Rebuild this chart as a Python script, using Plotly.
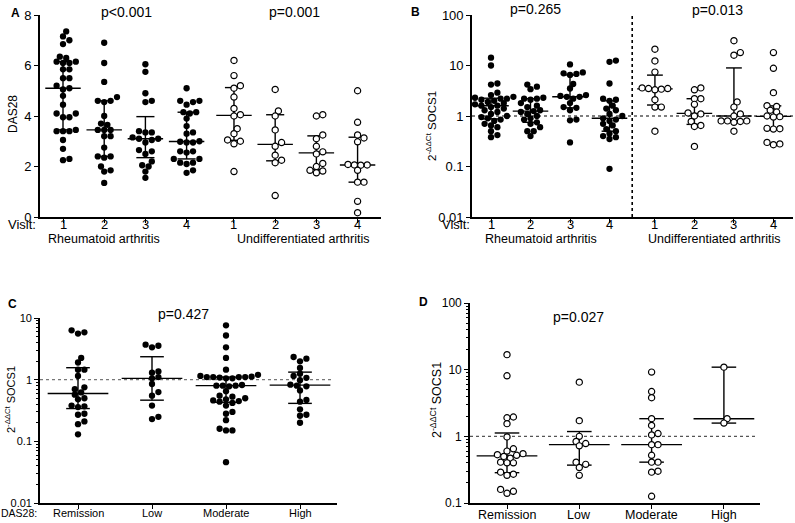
"""SOCS1 expression and DAS28 over visits, four-panel dot plots"""

import numpy as np
import plotly.graph_objects as go

W, H = 795, 523
FONT = "Liberation Sans, Arial, sans-serif"

# ---- data ----
visits = ["1", "2", "3", "4"]
das28_ra = [
    [7.35, 7.15, 7.0, 6.85, 6.35, 6.3, 6.15, 6.15, 6.1, 6.1, 5.85, 5.85, 5.5, 5.5, 5.2,
     5.1, 5.05, 4.8, 4.45, 4.1, 4.1, 3.95, 3.95, 3.45, 3.4, 3.4, 3.4, 3.05, 2.7, 2.3, 2.25],
    [6.9, 6.1, 5.35, 4.75, 4.6, 4.6, 4.55, 4.0, 3.7, 3.65, 3.45, 3.45, 3.45, 3.2, 3.2,
     2.75, 2.4, 2.4, 2.35, 2.0, 1.85, 1.8, 1.35],
    [6.05, 5.75, 4.9, 4.6, 4.55, 3.4, 3.35, 3.35, 3.15, 3.1, 3.1, 3.05, 2.95, 2.65, 2.6,
     2.5, 2.2, 2.05, 2.0, 1.8, 1.55],
    [5.1, 4.6, 4.6, 4.55, 4.45, 4.15, 4.15, 4.1, 3.9, 3.6, 3.35, 3.3, 3.0, 2.98, 2.95,
     2.95, 2.6, 2.6, 2.55, 2.3, 2.3, 2.15, 2.15, 2.1, 1.85, 1.75],
]
das28_ua = [
    [6.2, 5.6, 5.2, 5.1, 4.75, 4.3, 4.05, 4.0, 3.5, 3.3, 3.05, 3.0, 2.9, 1.8],
    [5.05, 4.2, 4.0, 3.45, 2.95, 2.8, 2.45, 2.25, 2.15, 0.85],
    [4.05, 4.0, 3.25, 3.1, 2.8, 2.58, 2.5, 2.12, 2.0, 1.85, 1.82, 1.75],
    [5.0, 3.75, 3.25, 3.13, 2.98, 2.08, 2.06, 2.06, 2.05, 1.85, 1.38, 1.38, 0.62, 0.17],
]
p_das28 = ["p&lt;0.001", "p=0.001"]

socs1_ra = [
    [14.3, 10.0, 4.4, 4.2, 2.9, 2.6, 2.4, 2.3, 2.2, 2.2, 2.1, 2.0, 1.9, 1.8, 1.7, 1.6, 1.6,
     1.5, 1.4, 1.3, 1.2, 1.1, 1.0, 0.95, 0.9, 0.85, 0.8, 0.7, 0.65, 0.6, 0.5, 0.42, 0.38],
    [4.2, 3.8, 3.4, 2.3, 2.2, 2.2, 2.1, 1.8, 1.6, 1.5, 1.3, 1.25, 1.2, 1.1, 1.0, 0.9, 0.85,
     0.75, 0.7, 0.6, 0.5, 0.5, 0.4],
    [10.5, 7.3, 7.0, 6.8, 6.5, 4.3, 3.5, 2.6, 2.5, 2.4, 2.4, 2.2, 1.8, 1.5, 1.45, 1.3,
     0.85, 0.82, 0.3],
    [12.5, 11.8, 4.4, 2.2, 2.1, 2.0, 1.6, 1.4, 1.3, 1.1, 1.0, 0.9, 0.85, 0.8, 0.7, 0.65,
     0.55, 0.5, 0.45, 0.4, 0.38, 0.35, 0.09],
]
socs1_ua = [
    [21.0, 12.3, 7.4, 3.6, 3.5, 3.5, 3.4, 3.3, 2.1, 1.5, 1.5, 0.5],
    [3.6, 3.3, 2.2, 2.2, 1.7, 1.15, 1.1, 1.0, 0.78, 0.65, 0.62, 0.25],
    [31.0, 18.0, 16.0, 1.9, 1.5, 1.1, 1.0, 0.8, 0.8, 0.78, 0.75, 0.5, 0.8],
    [18.0, 8.8, 2.9, 1.6, 1.55, 1.3, 1.2, 1.0, 0.97, 0.95, 0.57, 0.56, 0.55, 0.28, 0.3, 0.27],
]
p_socs1 = ["p=0.265", "p=0.013"]

das_levels = ["Remission", "Low", "Moderate", "High"]
socs1_ra_das = [
    [6.3, 5.85, 5.6, 2.25, 1.9, 1.45, 1.45, 1.15, 0.75, 0.7, 0.62, 0.57, 0.5, 0.48, 0.38,
     0.37, 0.36, 0.28, 0.27, 0.21, 0.19, 0.13],
    [3.7, 3.55, 3.35, 1.36, 1.3, 1.1, 1.05, 0.85, 0.63, 0.55, 0.38, 0.25, 0.23],
    [7.6, 5.2, 3.35, 2.25, 1.45, 1.2, 1.15, 1.12, 1.1, 1.1, 1.1, 1.1, 1.08, 1.05, 1.05,
     0.82, 0.8, 0.8, 0.8, 0.78, 0.65, 0.55, 0.53, 0.5, 0.48, 0.46, 0.45, 0.44, 0.42, 0.38,
     0.3, 0.28, 0.22, 0.16, 0.15, 0.15, 0.046],
    [2.33, 2.19, 1.98, 1.55, 1.25, 1.15, 1.07, 0.98, 0.83, 0.8, 0.78, 0.67, 0.47, 0.44,
     0.33, 0.27, 0.26, 0.2],
]
p_ra_das = "p=0.427"
socs1_ua_das = [
    [16.8, 8.1, 1.95, 1.9, 1.55, 0.98, 0.65, 0.6, 0.55, 0.53, 0.52, 0.5, 0.47, 0.41, 0.4,
     0.4, 0.29, 0.27, 0.26, 0.16, 0.15, 0.14],
    [6.5, 1.72, 1.0, 0.84, 0.78, 0.72, 0.41, 0.38, 0.34, 0.26],
    [9.2, 4.7, 3.8, 1.84, 1.46, 1.1, 1.05, 0.75, 0.75, 0.52, 0.41, 0.41, 0.3, 0.29, 0.126],
    [10.9, 1.84, 1.58],
]
p_ua_das = "p=0.027"

SOCS_TITLE = "2<sup>-ΔΔCt</sup> SOCS1"

# ---- panel geometry in pixels: left, right, top, bottom ----
panels = {
    "A": dict(box=(40, 381, 15, 217), x0=63, step=41.2, yr=(0, 8), log=False),
    "B": dict(box=(472, 793, 15, 217), x0=491, step=39.5, yr=(-2, 2), log=True),
    "C": dict(box=(40, 337, 318, 503), x0=78, step=74.0, yr=(-2, 1), log=True),
    "D": dict(box=(470, 760, 303, 503), x0=507, step=72.3, yr=(-1, 2), log=True),
}
for p in panels.values():
    l, r, t, b = p["box"]
    p["xr"] = ((l - p["x0"]) / p["step"], (r - p["x0"]) / p["step"])
    p["ypx"] = (b - t) / (p["yr"][1] - p["yr"][0])

split_pos = [0, 1, 2, 3, 4.15, 5.15, 6.15, 7.15]
cat_pos = [0, 1, 2, 3]


def swarm(vals, pan, d=6.4):
    """Greedy beeswarm offsets (in x data units)"""
    v = np.asarray(vals, float)
    y = (np.log10(v) if pan["log"] else v) * pan["ypx"]
    offs = np.zeros(len(v))
    placed = []
    for i in np.argsort(y):
        for k in range(80):
            o = (k + 1) // 2 * (1 if k % 2 else -1) * d / 2
            if all((o - po) ** 2 + (y[i] - py) ** 2 >= (0.85 * d) ** 2 for po, py in placed):
                break
        placed.append((o, y[i]))
        offs[i] = o
    return offs / pan["step"]


def dots(groups, positions, pan, filled, ax):
    xs, ys = [], []
    for vals, c in zip(groups, positions):
        xs += list(c + swarm(vals, pan))
        ys += list(vals)
    marker = dict(size=6.3, color="black", line=dict(width=0)) if filled else \
        dict(size=6.2, color="white", line=dict(width=1.2, color="black"))
    return go.Scatter(x=xs, y=ys, mode="markers", marker=marker, xaxis="x" + ax,
                      yaxis="y" + ax, hoverinfo="skip", cliponaxis=False)


def summary(groups, positions, mw, cw, ax):
    """median line plus interquartile range bar"""
    xs, ys = [], []
    for vals, c in zip(groups, positions):
        med = np.median(vals)
        q1, q3 = np.percentile(vals, [25, 75], method="weibull")
        xs += [c - mw, c + mw, None, c, c, None, c - cw, c + cw, None, c - cw, c + cw, None]
        ys += [med, med, None, q1, q3, None, q1, q1, None, q3, q3, None]
    return go.Scatter(x=xs, y=ys, mode="lines", line=dict(color="black", width=1.4),
                      xaxis="x" + ax, yaxis="y" + ax, hoverinfo="skip")


def ref_line(xs, ys, ax, color="black", width=1.1):
    return go.Scatter(x=xs, y=ys, mode="lines", line=dict(color=color, width=width, dash="dot"),
                      xaxis="x" + ax, yaxis="y" + ax, hoverinfo="skip")


pA, pB, pC, pD = panels["A"], panels["B"], panels["C"], panels["D"]

fig = go.Figure()
# A
fig.add_trace(summary(das28_ra + das28_ua, split_pos, 0.43, 0.22, ""))
fig.add_trace(dots(das28_ra, split_pos[:4], pA, True, ""))
fig.add_trace(dots(das28_ua, split_pos[4:], pA, False, ""))
# B
fig.add_trace(ref_line([pB["xr"][0], pB["xr"][1]], [1, 1], "2"))
fig.add_trace(ref_line([3.575, 3.575], [0.01, 100], "2", width=1.6))
fig.add_trace(summary(socs1_ra + socs1_ua, split_pos, 0.45, 0.2, "2"))
fig.add_trace(dots(socs1_ra, split_pos[:4], pB, True, "2"))
fig.add_trace(dots(socs1_ua, split_pos[4:], pB, False, "2"))
# C
fig.add_trace(ref_line([pC["xr"][0], 3.45], [1, 1], "3", color="#777"))
fig.add_trace(summary(socs1_ra_das, cat_pos, 0.41, 0.16, "3"))
fig.add_trace(dots(socs1_ra_das, cat_pos, pC, True, "3"))
# D
fig.add_trace(ref_line([pD["xr"][0], 3.47], [1, 1], "4", color="#555"))
fig.add_trace(summary(socs1_ua_das, cat_pos, 0.42, 0.17, "4"))
fig.add_trace(dots(socs1_ua_das, cat_pos, pD, False, "4"))


def axis_pair(pan, ax, tickvals, ysize, yvals, ytext, minor=False):
    l, r, t, b = pan["box"]
    xa = dict(domain=[l / W, r / W], range=list(pan["xr"]), anchor="y" + ax,
              tickvals=tickvals, showticklabels=False, showline=True, linecolor="black",
              linewidth=1.6, ticks="outside", ticklen=4, tickwidth=1.4, tickcolor="black",
              showgrid=False, zeroline=False, automargin=False)
    ya = dict(domain=[1 - b / H, 1 - t / H], anchor="x" + ax,
              type="log" if pan["log"] else "linear",
              range=list(pan["yr"]), tickvals=yvals, ticktext=ytext, showline=True,
              linecolor="black", linewidth=1.6, ticks="outside", ticklen=4, tickwidth=1.4,
              tickcolor="black", showgrid=False, zeroline=False, automargin=False,
              tickfont=dict(family=FONT, size=ysize, color="black"))
    if minor:
        lo, hi = pan["yr"]
        ya["minor"] = dict(tickvals=[k * 10.0 ** e for e in range(lo, hi) for k in range(2, 10)],
                           ticks="outside", ticklen=2.5, tickwidth=1, tickcolor="black",
                           showgrid=False)
    return xa, ya


xa, ya = axis_pair(pA, "", split_pos, 13, [0, 2, 4, 6, 8], ["0", "2", "4", "6", "8"])
xb, yb = axis_pair(pB, "2", split_pos, 13, [0.01, 0.1, 1, 10, 100],
                   ["0.01", "0.1", "1", "10", "100"])
xc, yc = axis_pair(pC, "3", cat_pos, 11, [0.01, 0.1, 1, 10],
                   ["0.01", "0.1", "1", "10"], minor=True)
xd, yd = axis_pair(pD, "4", cat_pos, 12, [0.1, 1, 10, 100],
                   ["0.1", "1", "10", "100"], minor=True)


def note(text, x, y, size=13, bold=False, angle=0, anchor="center"):
    return dict(text="<b>%s</b>" % text if bold else text, x=x / W, y=1 - y / H,
                xref="paper", yref="paper", showarrow=False, textangle=angle,
                xanchor=anchor, yanchor="middle",
                font=dict(family=FONT, size=size, color="black"))


def tick_labels(labels, positions, ax, y, size):
    """category labels just under the x axis, tight like the original"""
    return [dict(text=t, x=c, y=1 - y / H, xref="x" + ax, yref="paper", showarrow=False,
                 xanchor="center", yanchor="middle",
                 font=dict(family=FONT, size=size, color="black"))
            for t, c in zip(labels, positions)]


annotations = [
    note("A", 15, 13, 12, True), note("B", 415, 12, 12, True),
    note("C", 12, 304, 12, True), note("D", 423, 302, 12, True),
    note(p_das28[0], 126, 12, 14), note(p_das28[1], 294, 12, 14),
    note(p_socs1[0], 535, 9, 14), note(p_socs1[1], 717, 10, 14),
    note(p_ra_das, 183, 314, 14), note(p_ua_das, 578, 317, 14),
    note("DAS28", 13, 114, 12, angle=-90),
    note(SOCS_TITLE, 431, 126, 11.5, angle=-90),
    note(SOCS_TITLE, 10, 400, 11, angle=-90),
    note(SOCS_TITLE, 436, 400, 12.5, angle=-90),
    note("Visit:", 22, 225, 13), note("Visit:", 456, 225, 13),
    note("DAS28:", -1, 513, 10.5, anchor="left"),
    note("Rheumatoid arthritis", 104, 239, 12.5),
    note("Undifferentiated arthritis", 303, 239, 12.5),
    note("Rheumatoid arthritis", 541, 239, 12.5),
    note("Undifferentiated arthritis", 714, 239, 12.5),
]
annotations += tick_labels(visits * 2, split_pos, "", 225, 13)
annotations += tick_labels(visits * 2, split_pos, "2", 225, 13)
annotations += tick_labels(das_levels, cat_pos, "3", 513, 11)
annotations += tick_labels(das_levels, cat_pos, "4", 515, 12.5)

fig.update_layout(
    width=W, height=H, margin=dict(l=0, r=0, t=0, b=0),
    paper_bgcolor="white", plot_bgcolor="white", showlegend=False,
    xaxis=xa, yaxis=ya, xaxis2=xb, yaxis2=yb, xaxis3=xc, yaxis3=yc,
    xaxis4=xd, yaxis4=yd, annotations=annotations,
)

# drop the browser's default page margin so the figure sits at the window corner
fig.write_html("out.html", config={"displayModeBar": False},
               post_script="document.body.style.margin = '0';")
